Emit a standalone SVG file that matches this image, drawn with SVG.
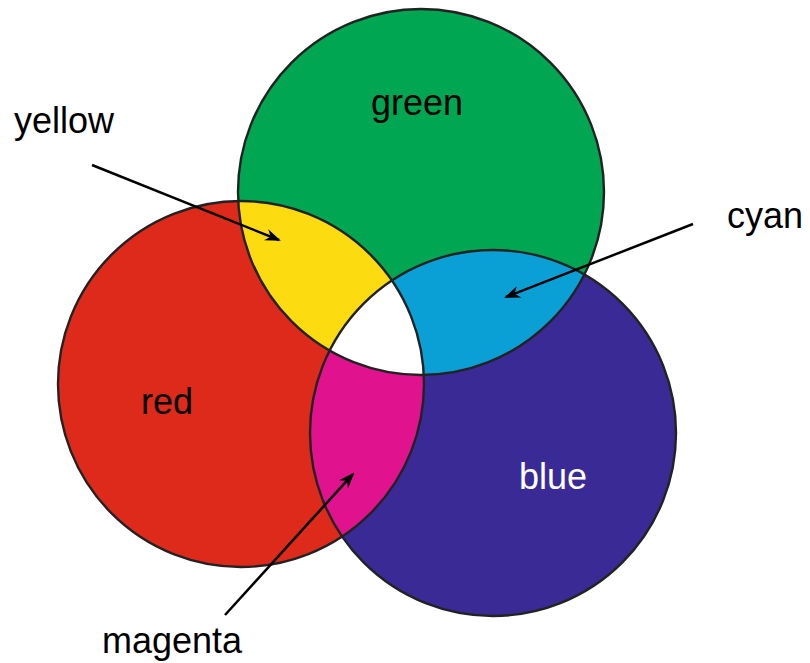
<svg xmlns="http://www.w3.org/2000/svg" width="810" height="663" viewBox="0 0 810 663">
  <style>
    .lbl { font-family: "Liberation Sans", Arial, sans-serif; font-size: 36px; fill: #000; }
    .edge { fill: none; stroke: #222; stroke-width: 2.4; }
    .arrow { stroke: #000; stroke-width: 2.5; fill: none; marker-end: url(#ah); }
  </style>
  <defs>
    <marker id="ah" viewBox="0 0 16 12" refX="14" refY="6" markerWidth="16" markerHeight="12" markerUnits="userSpaceOnUse" orient="auto">
      <path d="M0,0 L16,6 L0,12 L5,6 z" fill="#000"/>
    </marker>
    <clipPath id="cRed"><circle cx="241" cy="384" r="183"/></clipPath>
    <clipPath id="cBlue"><circle cx="493" cy="433" r="183"/></clipPath>
  </defs>
  <rect width="810" height="663" fill="#fff"/>
  <g id="red"><circle cx="241" cy="384" r="183" fill="#DE2A1B"/></g>
  <g id="blue"><circle cx="493" cy="433" r="183" fill="#3A2A95"/></g>
  <g id="green"><circle cx="421" cy="192" r="183" fill="#00A651"/></g>
  <g id="yellow"><g clip-path="url(#cRed)"><circle cx="421" cy="192" r="183" fill="#FCDC10"/></g></g>
  <g id="cyan"><g clip-path="url(#cBlue)"><circle cx="421" cy="192" r="183" fill="#0AA0D6"/></g></g>
  <g id="magenta"><g clip-path="url(#cBlue)"><circle cx="241" cy="384" r="183" fill="#E0128E"/></g></g>
  <g id="white"><g clip-path="url(#cRed)"><g clip-path="url(#cBlue)"><circle cx="421" cy="192" r="183" fill="#fff"/></g></g></g>
  <g id="outlines">
    <circle class="edge" cx="241" cy="384" r="183"/>
    <circle class="edge" cx="493" cy="433" r="183"/>
    <circle class="edge" cx="421" cy="192" r="183"/>
  </g>
  <g id="connectors">
    <line class="arrow" x1="92" y1="165" x2="279" y2="240"/>
    <line class="arrow" x1="693" y1="224" x2="506" y2="297"/>
    <line class="arrow" x1="225" y1="615" x2="353" y2="474"/>
  </g>
  <g id="labels">
    <text class="lbl" x="14" y="133">yellow</text>
    <text class="lbl" x="371" y="115">green</text>
    <text class="lbl" x="727" y="228">cyan</text>
    <text class="lbl" x="141" y="414">red</text>
    <text class="lbl" x="519" y="489" style="fill:#fff">blue</text>
    <text class="lbl" x="102" y="653">magenta</text>
  </g>
</svg>
